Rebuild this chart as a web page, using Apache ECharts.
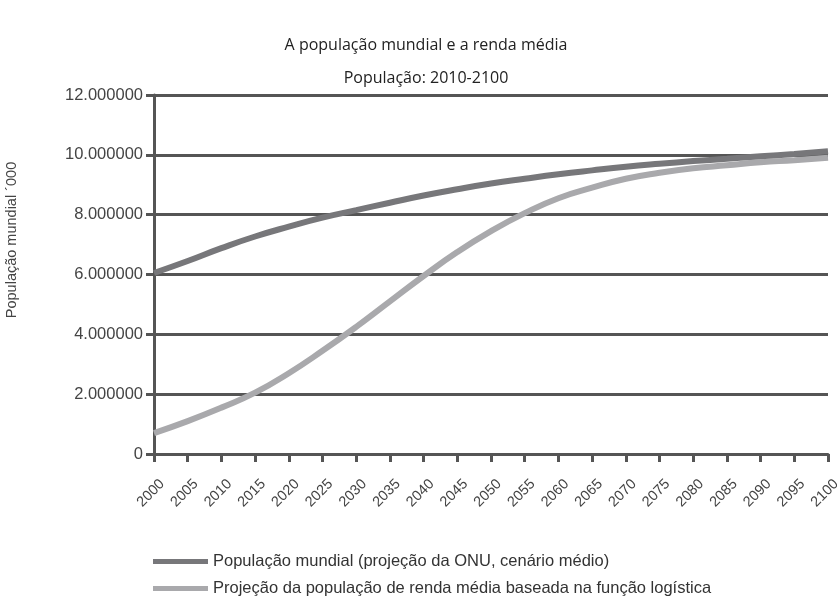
<!DOCTYPE html>
<html>
<head>
<meta charset="utf-8">
<script src="https://cdn.jsdelivr.net/npm/echarts@6/dist/echarts.min.js"></script>
<style>
  html, body { margin: 0; padding: 0; background: #fff; }
  #chart { width: 837px; height: 603px; }
</style>
</head>
<body>
<div id="chart"></div>
<script>
// anos (eixo x)
var years = ['2000', '2005', '2010', '2015', '2020', '2025', '2030', '2035', '2040', '2045', '2050',
  '2055', '2060', '2065', '2070', '2075', '2080', '2085', '2090', '2095', '2100']

// população mundial, projeção ONU (milhares)
var popONU = [6050000, 6450000, 6880000, 7270000, 7600000, 7900000, 8150000, 8400000, 8640000, 8850000, 9040000,
  9200000, 9350000, 9480000, 9600000, 9700000, 9790000, 9870000, 9950000, 10030000, 10120000]

// população de renda média, função logística (milhares)
var popRendaMedia = [700000, 1100000, 1550000, 2050000, 2700000, 3450000, 4250000, 5100000, 5950000, 6750000, 7450000,
  8050000, 8550000, 8900000, 9200000, 9400000, 9550000, 9650000, 9750000, 9820000, 9900000]

var seriesNames = [
  'População mundial (projeção da ONU, cenário médio)',
  'Projeção da população de renda média baseada na função logística'
]

var legendText = { fontFamily: 'Liberation Sans', fontSize: 16.5, color: '#333' }

var chart = echarts.init(document.getElementById('chart'))
chart.setOption({
  animation: false,
  color: ['#77777a', '#a9a9ac'],
  title: [
    {
      text: 'A população mundial e a renda média',
      left: 421,
      top: 32,
      textAlign: 'center',
      textStyle: { fontFamily: 'Open Sans', fontSize: 16, fontWeight: 'normal', color: '#222' }
    },
    {
      text: 'População: 2010-2100',
      left: 421,
      top: 65,
      textAlign: 'center',
      textStyle: { fontFamily: 'Open Sans', fontSize: 16, fontWeight: 'normal', color: '#222' }
    }
  ],
  // uma legenda por linha
  legend: [
    {
      left: 153,
      top: 553,
      padding: 0,
      itemWidth: 55,
      itemHeight: 5,
      icon: 'rect',
      textStyle: legendText,
      data: [seriesNames[0]]
    },
    {
      left: 153,
      top: 580,
      padding: 0,
      itemWidth: 55,
      itemHeight: 5,
      icon: 'rect',
      textStyle: legendText,
      data: [seriesNames[1]]
    }
  ],
  graphic: [
    {
      type: 'text',
      x: 12,
      y: 240,
      rotation: Math.PI / 2,
      style: {
        text: 'População mundial ´000',
        font: '14.5px "Liberation Sans"',
        fill: '#444',
        align: 'center',
        verticalAlign: 'middle'
      }
    }
  ],
  grid: {
    left: 154,
    right: 9,
    top: 95,
    bottom: 149,
    containLabel: false,
    outerBoundsMode: 'none'
  },
  xAxis: {
    type: 'category',
    boundaryGap: false,
    data: years,
    axisLine: { show: true, lineStyle: { color: '#555', width: 3 } },
    axisTick: { show: true, length: 8, lineStyle: { color: '#555', width: 3 } },
    axisLabel: {
      rotate: 45,
      margin: 36,
      interval: 0,
      align: 'center',
      verticalAlign: 'middle',
      padding: [0, 9, 0, 0],
      fontFamily: 'Liberation Sans',
      fontSize: 14.5,
      color: '#444'
    },
    splitLine: { show: false }
  },
  yAxis: {
    type: 'value',
    min: 0,
    max: 12000000,
    interval: 2000000,
    axisLine: { show: true, lineStyle: { color: '#555', width: 3 } },
    axisTick: { show: true, length: 8, lineStyle: { color: '#555', width: 3 } },
    axisLabel: {
      margin: 11,
      fontFamily: 'Liberation Sans',
      fontSize: 16.5,
      color: '#444',
      formatter: function (v) {
        return v === 0 ? '0' : (v / 1000000).toFixed(6)
      }
    },
    splitLine: { show: true, lineStyle: { color: '#555', width: 3 } }
  },
  series: [
    {
      name: seriesNames[0],
      type: 'line',
      smooth: true,
      symbol: 'none',
      data: popONU,
      lineStyle: { width: 6, cap: 'butt' },
      z: 3
    },
    {
      name: seriesNames[1],
      type: 'line',
      smooth: true,
      symbol: 'none',
      data: popRendaMedia,
      lineStyle: { width: 6, cap: 'butt' },
      z: 2
    }
  ]
})
</script>
</body>
</html>
